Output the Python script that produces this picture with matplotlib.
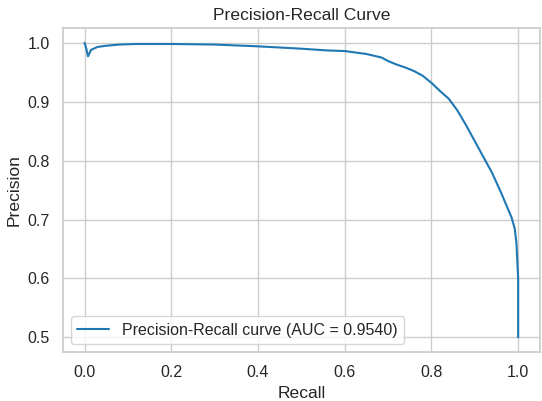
import matplotlib
matplotlib.use("Agg")
import matplotlib.pyplot as plt
import seaborn as sns

# PR curve points
recall = [0.0, 0.004, 0.008, 0.015, 0.03, 0.05, 0.08, 0.12, 0.2, 0.3, 0.4, 0.5,
          0.56, 0.6, 0.65, 0.685, 0.70, 0.72, 0.74, 0.76, 0.78, 0.80, 0.82,
          0.84, 0.86, 0.88, 0.90, 0.92, 0.94, 0.961, 0.973, 0.985, 0.992,
          0.996, 0.998, 1.0, 1.0]
precision = [1.0, 0.99, 0.977, 0.988, 0.993, 0.995, 0.997, 0.998, 0.998, 0.997,
             0.994, 0.99, 0.987, 0.986, 0.981, 0.975, 0.969, 0.963, 0.958,
             0.952, 0.944, 0.932, 0.918, 0.905, 0.885, 0.86, 0.833, 0.806,
             0.779, 0.745, 0.724, 0.703, 0.685, 0.66, 0.63, 0.6, 0.5]
AUC = 0.9540

sns.set_theme(style="whitegrid")
plt.rcParams["font.family"] = ["Liberation Sans", "DejaVu Sans"]

fig, ax = plt.subplots(figsize=(5.42, 4.01), dpi=100)
ax.plot(recall, precision, color="#1f77b4", lw=1.5,
        label=f"Precision-Recall curve (AUC = {AUC:.4f})")
ax.set_xlabel("Recall", fontsize=12.6)
ax.set_ylabel("Precision", fontsize=12.6)
ax.set_title("Precision-Recall Curve", fontsize=12.6)
ax.tick_params(labelsize=11.5)
ax.legend(loc="lower left", fontsize=11.5)
fig.subplots_adjust(left=0.116, right=0.996, top=0.930, bottom=0.122)
fig.savefig("out.png", dpi=100)
